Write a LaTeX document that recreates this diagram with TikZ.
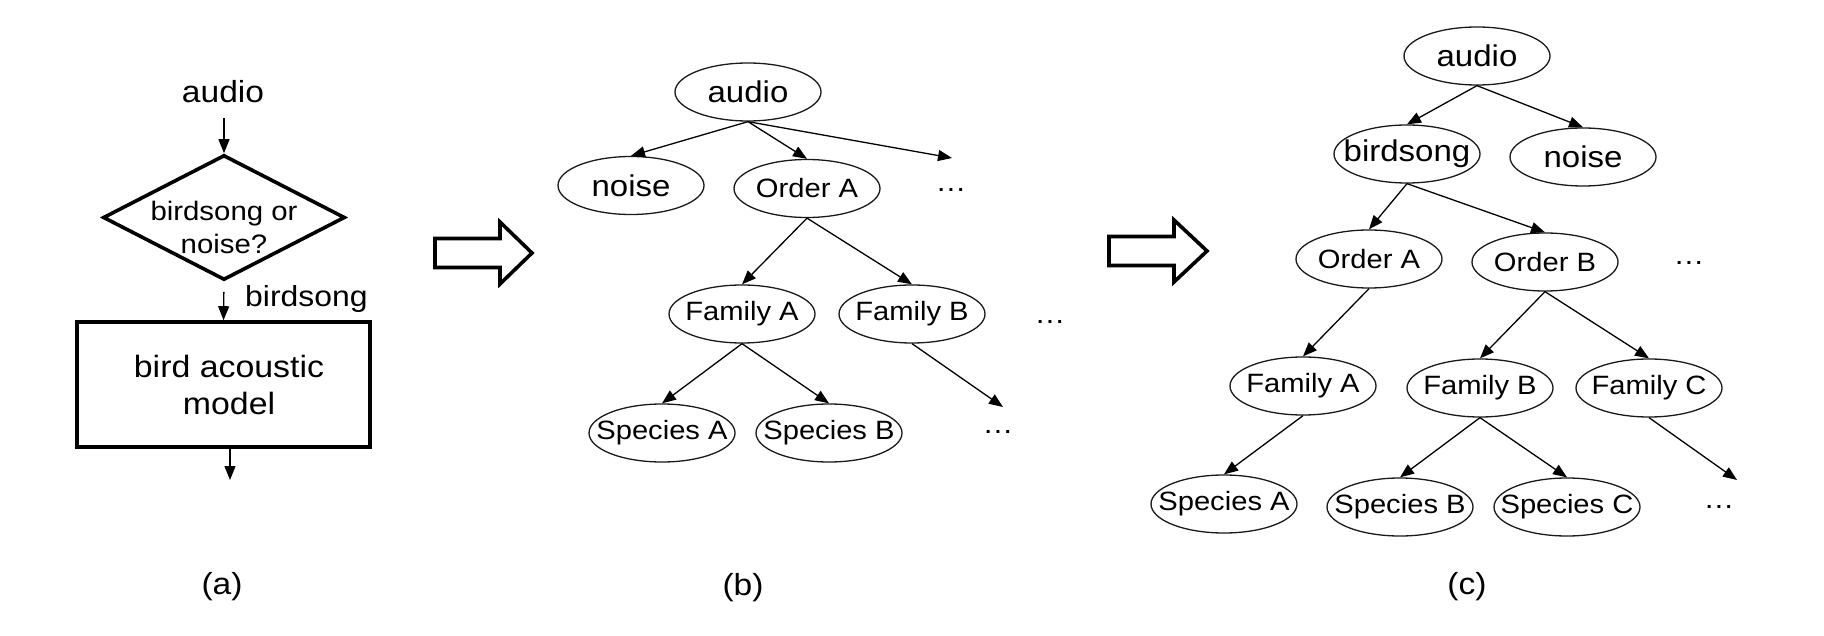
\documentclass[tikz,border=0pt]{standalone}
\usepackage{fontspec}
\setmainfont{Liberation Sans}[FakeStretch=1.1]
\usetikzlibrary{shapes.geometric, arrows.meta}
\begin{document}
\begin{tikzpicture}[x=1pt,y=-1pt,
  enode/.style={ellipse, draw=black!90, line width=1.3pt, minimum width=146pt, minimum height=58pt, inner sep=0pt},
  bigtxt/.style={font=\fontsize{30}{32}\selectfont, inner sep=0pt},
  smalltxt/.style={font=\fontsize{26.5}{30}\selectfont, inner sep=0pt},
  edge/.style={draw=black, line width=1.3pt, -{Triangle[length=14pt,width=11pt]}},
  thickline/.style={draw=black, line width=3.6pt, line join=miter},
  lbl/.style={font=\fontsize{30.5}{36}\selectfont, inner sep=0pt},
  dotstxt/.style={font=\fontsize{28}{30}\selectfont, inner sep=0pt}
]
\useasboundingbox (0,0) rectangle (1824,636);

% ---------------- panel (a)
\node[lbl] (audioA) at (223,92) {audio};
\coordinate (a0) at (224,118);
\node[diamond, thickline, minimum width=242pt, minimum height=125pt, inner sep=0pt] (dia) at (224,217.5) {};
\node[font=\fontsize{26.7}{33}\selectfont, align=center, inner sep=0pt] (diat) at (224,227.5) {birdsong or\\noise?};
\node[thickline, rectangle, minimum width=293pt, minimum height=125pt, inner sep=0pt] (box) at (223.5,384.5) {};
\node[font=\fontsize{30.8}{37}\selectfont, align=center, inner sep=0pt] (boxt) at (229,385) {bird acoustic\\model};
\node[font=\fontsize{29}{34}\selectfont, inner sep=0pt, anchor=base west] (bsl) at (245,307) {birdsong};
\coordinate (aout) at (230,480);
\draw[edge] (a0) -- (dia.north);
\draw[edge, shorten <=10pt] (dia.south) -- (box.north);
\draw[edge] (box.south -| aout) -- (aout);
\node[lbl] (la) at (222,587) {(a)};

% ---------------- block arrows
\coordinate (ba1) at (532,253);
\draw[thickline] (ba1) -- ++(-32,-31) -- ++(0,16.5) -- ++(-65,0) -- ++(0,29) -- ++(65,0) -- ++(0,16.5) -- cycle;
\coordinate (ba2) at (1207,251);
\draw[thickline] (ba2) -- ++(-33,-31) -- ++(0,16.5) -- ++(-65,0) -- ++(0,29) -- ++(65,0) -- ++(0,16.5) -- cycle;

% ---------------- panel (b)
\node[enode] (audioB) at (748,92) {};
\node[bigtxt] (audioBt) at (audioB) {audio};
\node[enode] (noiseB) at (631,185.5) {};
\node[bigtxt] (noiseBt) at (noiseB) {noise};
\node[enode] (ordAB) at (807,188.5) {};
\node[smalltxt] (ordABt) at (ordAB) {Order A};
\node[dotstxt] (d1B) at (951,190) {…};
\coordinate (e1B) at (952,158);
\node[enode] (famAB) at (742,314) {};
\node[smalltxt] (famABt) at (famAB) {Family A};
\node[enode] (famBB) at (912,314) {};
\node[smalltxt] (famBBt) at (famBB) {Family B};
\node[dotstxt] (d2B) at (1050,322) {…};
\coordinate (e2B) at (1003,407);
\node[enode] (spAB) at (662,433) {};
\node[smalltxt] (spABt) at (spAB) {Species A};
\node[enode] (spBB) at (829,433) {};
\node[smalltxt] (spBBt) at (spBB) {Species B};
\node[dotstxt] (d3B) at (998,432) {…};
\node[lbl] (lb) at (743,588) {(b)};

\draw[edge] (audioB.south) -- (noiseB.north);
\draw[edge] (audioB.south) -- (ordAB.north);
\draw[edge] (audioB.south) -- (e1B);
\draw[edge] (ordAB.south) -- (famAB.north);
\draw[edge] (ordAB.south) -- (famBB.north);
\draw[edge] (famAB.south) -- (spAB.north);
\draw[edge] (famAB.south) -- (spBB.north);
\draw[edge] (famBB.south) -- (e2B);

% ---------------- panel (c)
\node[enode] (audioC) at (1477,56) {};
\node[bigtxt] (audioCt) at (audioC) {audio};
\node[enode] (birdC) at (1407,154) {};
\node[bigtxt] (birdCt) at (birdC) {birdsong};
\node[enode] (noiseC) at (1583,157) {};
\node[bigtxt] (noiseCt) at (noiseC) {noise};
\node[enode] (ordAC) at (1369,259) {};
\node[smalltxt] (ordACt) at (ordAC) {Order A};
\node[enode] (ordBC) at (1545,262) {};
\node[smalltxt] (ordBCt) at (ordBC) {Order B};
\node[dotstxt] (d1C) at (1689,263) {…};
\node[enode] (famAC) at (1303,386) {};
\node[smalltxt] (famACt) at (famAC) {Family A};
\node[enode] (famBC) at (1480,388) {};
\node[smalltxt] (famBCt) at (famBC) {Family B};
\node[enode] (famCC) at (1649,388) {};
\node[smalltxt] (famCCt) at (famCC) {Family C};
\node[enode] (spAC) at (1224,504) {};
\node[smalltxt] (spACt) at (spAC) {Species A};
\node[enode] (spBC) at (1400,507) {};
\node[smalltxt] (spBCt) at (spBC) {Species B};
\node[enode] (spCC) at (1567,507) {};
\node[smalltxt] (spCCt) at (spCC) {Species C};
\node[dotstxt] (d2C) at (1719,507) {…};
\coordinate (e1C) at (1737,480);
\node[lbl] (lc) at (1467,587) {(c)};

\draw[edge] (audioC.south) -- (birdC.north);
\draw[edge] (audioC.south) -- (noiseC.north);
\draw[edge] (birdC.south) -- (ordAC.north);
\draw[edge] (birdC.south) -- (ordBC.north);
\draw[edge] (ordAC.south) -- (famAC.north);
\draw[edge] (ordBC.south) -- (famBC.north);
\draw[edge] (ordBC.south) -- (famCC.north);
\draw[edge] (famAC.south) -- (spAC.north);
\draw[edge] (famBC.south) -- (spBC.north);
\draw[edge] (famBC.south) -- (spCC.north);
\draw[edge] (famCC.south) -- (e1C);
\end{tikzpicture}
\end{document}
